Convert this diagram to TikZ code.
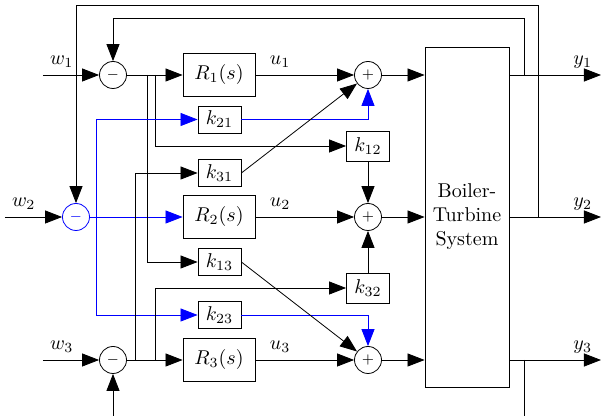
\documentclass[tikz,border=0pt]{standalone}
\usepackage{amsmath}
\usepackage{tikz}
\usetikzlibrary{arrows.meta}

\tikzset{
  blk/.style={draw, minimum width=36pt, minimum height=21.5pt},
  gain/.style={draw, minimum width=21.5pt, minimum height=13.5pt, inner sep=1pt},
  sumj/.style={draw, circle, minimum size=13.5pt, inner sep=0pt, font=\scriptsize},
}

\begin{document}
\begin{tikzpicture}[x=0.5pt,y=-0.5pt,>={Triangle[length=8.5pt,width=6.5pt]}]
  \useasboundingbox (0,0) rectangle (602,416);

  % error junctions
  \node[sumj] (s1) at (113,75) {$-$};
  \node[sumj,blue] (s2) at (76,217) {$-$};
  \node[sumj] (s3) at (113,360) {$-$};

  % controllers
  \node[blk] (R1) at (219,75) {$R_1(s)$};
  \node[blk] (R2) at (219,217) {$R_2(s)$};
  \node[blk] (R3) at (219,360) {$R_3(s)$};

  % decoupling gains
  \foreach \n/\y in {21/119.5,31/173,13/262,23/315}
    \node[gain] (k\n) at (219.5,\y) {$k_{\n}$};
  \node[gain,minimum height=15pt] (k12) at (368,146) {$k_{12}$};
  \node[gain,minimum height=15pt] (k32) at (368,288) {$k_{32}$};

  % junctions in front of the plant
  \foreach \i/\y in {1/75,2/217,3/360}
    \node[sumj] (a\i) at (368,\y) {$+$};

  % plant
  \node[draw,minimum width=42pt,minimum height=170pt,align=center] (bts)
    at (467,217) {Boiler-\\Turbine\\System};

  % free ends and branch points
  \coordinate (w1in) at (43,75);
  \coordinate (w2in) at (5,217);
  \coordinate (w3in) at (43,360);
  \coordinate (s3in) at (113,416);
  \coordinate (out1) at (601,75);
  \coordinate (out2) at (601,217);
  \coordinate (out3) at (601,360);
  \coordinate (top1) at (0,18);
  \coordinate (top2) at (0,5);
  \coordinate (fb1) at (524,75);
  \coordinate (fb2) at (538,217);
  \coordinate (fb3) at (524,360);
  \coordinate (b11) at (147,75);
  \coordinate (b12) at (155,75);
  \coordinate (b2) at (96,217);
  \coordinate (b31) at (135,360);
  \coordinate (b32) at (155,360);

  % references
  \draw[->] (w1in) node[above right] {$w_1$} -- (s1);
  \draw[->] (w2in) node[above right] {$w_2$} -- (s2);
  \draw[->] (w3in) node[above right] {$w_3$} -- (s3);
  \draw[->] (s3in) -- (s3);

  % main channels
  \draw[->] (s1) -- (R1);
  \draw[blue,->] (s2) -- (R2);
  \draw[->] (s3) -- (R3);
  \foreach \i in {1,2,3} {
    \draw[->] (R\i) -- node[above,pos=0.25] {$u_\i$} (a\i);
    \draw[->] (a\i) -- (a\i -| bts.west);
    \draw[->] (bts.east |- a\i) -- node[above,pos=0.8] {$y_\i$} (out\i);
  }

  % feedback
  \draw[->] (fb1) |- (top1 -| s1) -- (s1);
  \draw[->] (fb2) |- (top2 -| s2) -- (s2);
  \draw (fb3) -- (fb3 |- s3in);

  % cross couplings
  \draw[->] (b11) |- (k13);
  \draw[->] (b12) |- (k12);
  \draw[blue,->] (b2) |- (k21);
  \draw[blue,->] (b2) |- (k23);
  \draw[->] (b31) |- (k31);
  \draw[->] (b32) |- (k32);
  \draw[blue,->] (k21) -| (a1);
  \draw[blue,->] (k23) -| (a3);
  \draw[->] (k31.east) -- (a1);
  \draw[->] (k13.east) -- (a3);
  \draw[->] (k12) -- (a2);
  \draw[->] (k32) -- (a2);
\end{tikzpicture}
\end{document}
